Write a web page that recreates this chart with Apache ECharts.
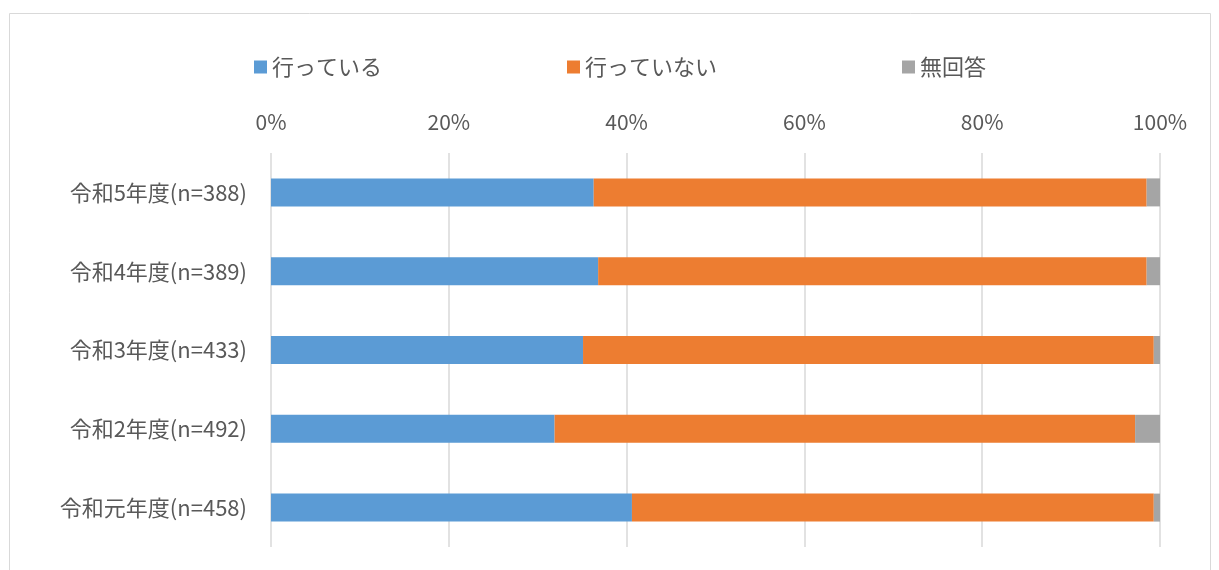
<!DOCTYPE html>
<html>
<head>
<meta charset="utf-8">
<script src="https://cdn.jsdelivr.net/npm/echarts@6/dist/echarts.min.js"></script>
<style>
html,body{margin:0;padding:0;background:#fff;}
#chart{width:1219px;height:570px;}
</style>
</head>
<body>
<div id="chart"></div>
<script>
const categories = ['令和5年度(n=388)','令和4年度(n=389)','令和3年度(n=433)','令和2年度(n=492)','令和元年度(n=458)'];
const seriesNames = ['行っている','行っていない','無回答'];
const doing = [36.3, 36.8, 35.1, 31.9, 40.6];
const notDoing = [62.2, 61.7, 64.2, 65.3, 58.7];
const noAnswer = [1.5, 1.5, 0.7, 2.8, 0.7];
const xTicks = [0, 20, 40, 60, 80, 100];

const colors = ['#5B9BD5', '#ED7D31', '#A5A5A5'];
const font = '"Noto Sans CJK JP", "Noto Sans", sans-serif';
const chart = echarts.init(document.getElementById('chart'));
const dataSets = [doing, notDoing, noAnswer];
chart.setOption({
  animation: false,
  textStyle: { fontFamily: font },
  graphic: [{
    type: 'rect',
    shape: { x: 9.5, y: 13.5, width: 1201, height: 570 },
    style: { fill: 'none', stroke: '#D9D9D9', lineWidth: 1 },
    silent: true
  }],
  legend: {
    top: 56,
    left: 254,
    padding: 0,
    itemWidth: 13,
    itemHeight: 13,
    itemGap: 185,
    icon: 'rect',
    textStyle: { fontSize: 22, color: '#595959', fontFamily: font },
    data: seriesNames
  },
  grid: { left: 271, right: 59, top: 153, bottom: 23 },
  xAxis: {
    type: 'value',
    position: 'top',
    min: xTicks[0],
    max: xTicks[xTicks.length - 1],
    interval: 20,
    axisLine: { show: false },
    axisTick: { show: false },
    axisLabel: { formatter: '{value}%', fontSize: 21, color: '#595959', margin: 20, fontFamily: font },
    splitLine: { lineStyle: { color: '#D9D9D9', width: 1.5 } }
  },
  yAxis: {
    type: 'category',
    inverse: true,
    data: categories,
    axisLine: { show: false },
    axisTick: { show: false },
    axisLabel: { fontSize: 22, color: '#595959', margin: 24, fontFamily: font }
  },
  series: seriesNames.map((n, i) => ({
    name: n,
    type: 'bar',
    stack: 'total',
    barWidth: 28,
    itemStyle: { color: colors[i] },
    data: dataSets[i]
  }))
});
</script>
</body>
</html>
